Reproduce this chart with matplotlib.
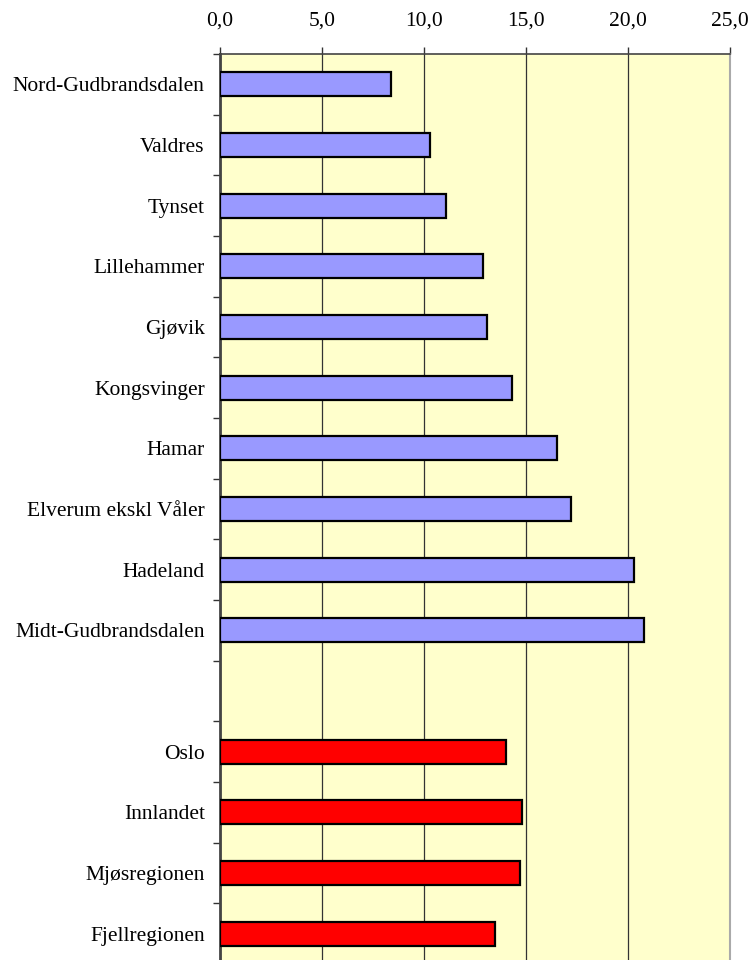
"""Horizontal bar chart of regions in Innlandet, with comparison areas below."""

import matplotlib

matplotlib.use("Agg")

import matplotlib.pyplot as plt
import numpy as np

REGIONS = [
    "Nord-Gudbrandsdalen",
    "Valdres",
    "Tynset",
    "Lillehammer",
    "Gjøvik",
    "Kongsvinger",
    "Hamar",
    "Elverum ekskl Våler",
    "Hadeland",
    "Midt-Gudbrandsdalen",
]
REGION_VALUES = [8.4, 10.3, 11.1, 12.9, 13.1, 14.3, 16.5, 17.2, 20.3, 20.8]

COMPARISON = ["Oslo", "Innlandet", "Mjøsregionen", "Fjellregionen"]
COMPARISON_VALUES = [14.0, 14.8, 14.7, 13.5]

X_TICKS = [0, 5, 10, 15, 20, 25]

plt.rcParams["font.family"] = ["Liberation Serif", "DejaVu Serif"]

fig = plt.figure(figsize=(7.52, 9.6), dpi=100)
ax = fig.add_axes([220 / 752, -4 / 960, 510 / 752, 910 / 960])
ax.set_facecolor("#FFFFCC")

# one empty slot between the two groups
labels = REGIONS + [""] + COMPARISON
pos_regions = np.arange(len(REGIONS))
pos_comp = np.arange(len(COMPARISON)) + len(REGIONS) + 1

ax.barh(pos_regions, REGION_VALUES, height=0.4, color="#9999FF",
        edgecolor="black", linewidth=1.6, zorder=3)
ax.barh(pos_comp, COMPARISON_VALUES, height=0.4, color="#FF0000",
        edgecolor="black", linewidth=1.6, zorder=3)

ax.set_xlim(0, 25)
ax.set_ylim(len(labels) - 0.5, -0.5)

ax.xaxis.tick_top()
ax.set_xticks(X_TICKS)
ax.set_xticklabels([f"{t:.1f}".replace(".", ",") for t in X_TICKS], fontsize=15.5)
ax.tick_params(axis="x", direction="out", length=5, width=1, color="#333333", pad=12)
ax.grid(axis="x", color="#333333", linewidth=0.9, zorder=1)

ax.set_yticks(np.arange(len(labels)))
ax.set_yticklabels(labels, fontsize=15.5)
ax.set_yticks(np.arange(len(labels) + 1) - 0.5, minor=True)
ax.tick_params(axis="y", which="major", length=0, pad=11)
ax.tick_params(axis="y", which="minor", direction="out", length=5, width=1, color="#333333")

ax.spines["left"].set_color("#444444")
ax.spines["left"].set_linewidth(2)
ax.spines["top"].set_color("#444444")
ax.spines["top"].set_linewidth(1.2)
ax.spines["right"].set_color("#AAAAAA")
ax.spines["right"].set_linewidth(1.5)
ax.spines["bottom"].set_visible(False)

fig.savefig("out.png", dpi=100)
plt.close(fig)
